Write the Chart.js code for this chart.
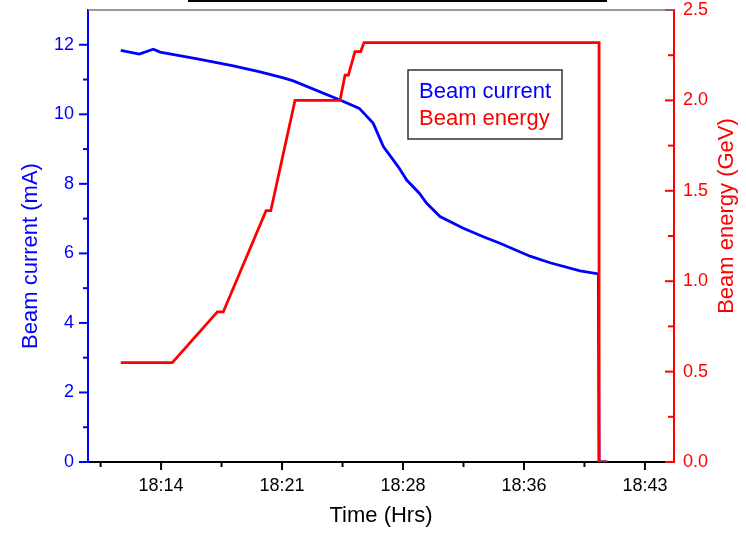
<!DOCTYPE html>
<html>
<head>
<meta charset="utf-8">
<title>Beam current and energy</title>
<script src="https://cdn.jsdelivr.net/npm/chart.js@4.4.0/dist/chart.umd.min.js"></script>
<style>
  html, body { margin: 0; padding: 0; background: #fff; }
  #wrap { width: 746px; height: 533px; }
</style>
</head>
<body>
<div id="wrap"><canvas id="beamChart" width="746" height="533"></canvas></div>
<script>
// times are minutes after 18:00
const currentTime = [12.0, 13.1, 13.94, 14.34, 16.72, 18.7, 20.29, 21.68, 22.27, 25.05, 26.2, 27.03, 27.63, 28.52, 29.02, 29.77, 30.21, 31.0, 32.39, 33.58, 34.57, 36.36, 37.55, 39.34, 40.43, 40.47, 40.95];
const beamCurrent = [11.84, 11.73, 11.87, 11.79, 11.58, 11.39, 11.22, 11.05, 10.96, 10.41, 10.17, 9.74, 9.07, 8.49, 8.11, 7.73, 7.44, 7.06, 6.72, 6.48, 6.29, 5.92, 5.73, 5.50, 5.41, 0, 0];

const energyTime = [12.0, 15.07, 17.75, 18.1, 20.65, 20.93, 22.37, 25.05, 25.35, 25.55, 25.94, 26.28, 26.48, 40.47, 40.47, 40.95];
const beamEnergy = [0.55, 0.55, 0.83, 0.83, 1.39, 1.39, 2.0, 2.0, 2.14, 2.14, 2.27, 2.27, 2.32, 2.32, 0, 0];

const timeTicks = [14.4, 21.6, 28.8, 36.0, 43.2];
const timeLabels = ['18:14', '18:21', '18:28', '18:36', '18:43'];
const currentTicks = [0, 2, 4, 6, 8, 10, 12];
const energyTicks = [0, 0.5, 1.0, 1.5, 2.0, 2.5];

const BLUE = '#0000ff';
const RED = '#ff0000';

Chart.defaults.font.family = '"Liberation Sans", Arial, sans-serif';
Chart.defaults.font.size = 18;

function toPoints(xs, ys) {
    return xs.map((x, i) => ({ x: x, y: ys[i] }));
}

function seg(ctx, x1, y1, x2, y2) {
    ctx.beginPath();
    ctx.moveTo(x1, y1);
    ctx.lineTo(x2, y2);
    ctx.stroke();
}

// fixed axis width, and no extra room for the end labels
function fixWidth(w) {
    return s => {
        s.width = w;
        s.paddingTop = 0;
        s.paddingBottom = 0;
    };
}

// tick marks: bottom + left point outwards, right axis points inwards
const tickMarks = {
    id: 'tickMarks',
    afterDraw(chart) {
        const { ctx, chartArea, scales } = chart;
        const x = scales.x, yc = scales.yCurrent, ye = scales.yEnergy;
        ctx.save();
        ctx.lineWidth = 2;

        ctx.strokeStyle = '#000';
        timeTicks.forEach(v => {
            let p = x.getPixelForValue(v);
            seg(ctx, p, chartArea.bottom, p, chartArea.bottom + 8);
            p = x.getPixelForValue(v - 3.6);
            seg(ctx, p, chartArea.bottom, p, chartArea.bottom + 5);
        });

        ctx.strokeStyle = BLUE;
        currentTicks.forEach(v => {
            let p = yc.getPixelForValue(v);
            seg(ctx, chartArea.left - 9, p, chartArea.left, p);
            if (v < 12) {
                p = yc.getPixelForValue(v + 1);
                seg(ctx, chartArea.left - 5, p, chartArea.left, p);
            }
        });

        ctx.strokeStyle = RED;
        energyTicks.forEach(v => {
            let p = ye.getPixelForValue(v);
            seg(ctx, chartArea.right - 9, p, chartArea.right, p);
            if (v < 2.5) {
                p = ye.getPixelForValue(v + 0.25);
                seg(ctx, chartArea.right - 6, p, chartArea.right, p);
            }
        });

        // top frame line, and the bottom edge of the title box above it
        ctx.strokeStyle = '#777';
        ctx.lineWidth = 1.5;
        seg(ctx, chartArea.left, chartArea.top, chartArea.right, chartArea.top);
        ctx.strokeStyle = '#000';
        ctx.lineWidth = 2;
        seg(ctx, 188, 1, 607, 1);

        // vertical axis titles, both read bottom to top
        ctx.font = '22px "Liberation Sans", Arial, sans-serif';
        ctx.textAlign = 'center';
        ctx.textBaseline = 'alphabetic';
        ctx.fillStyle = BLUE;
        ctx.translate(37, 256);
        ctx.rotate(-Math.PI / 2);
        ctx.fillText('Beam current (mA)', 0, 0);
        ctx.setTransform(1, 0, 0, 1, 0, 0);
        ctx.fillStyle = RED;
        ctx.translate(733, 216);
        ctx.rotate(-Math.PI / 2);
        ctx.fillText('Beam energy (GeV)', 0, 0);
        ctx.restore();
    }
};

// boxed legend with coloured text only
const boxLegend = {
    id: 'boxLegend',
    afterDraw(chart) {
        const ctx = chart.ctx;
        ctx.save();
        ctx.strokeStyle = '#333';
        ctx.lineWidth = 1.5;
        ctx.strokeRect(408, 70, 154, 69);
        ctx.font = '22px "Liberation Sans", Arial, sans-serif';
        ctx.textAlign = 'left';
        ctx.textBaseline = 'alphabetic';
        chart.data.datasets.forEach((ds, i) => {
            ctx.fillStyle = ds.borderColor;
            ctx.fillText(ds.label, 419, 98 + i * 27);
        });
        ctx.restore();
    }
};

const ctx = document.getElementById('beamChart').getContext('2d');
const beamChart = new Chart(ctx, {
    type: 'line',
    data: {
        datasets: [{
            label: 'Beam current',
            data: toPoints(currentTime, beamCurrent),
            yAxisID: 'yCurrent',
            borderColor: BLUE,
            borderWidth: 2.8,
            pointRadius: 0,
            tension: 0
        }, {
            label: 'Beam energy',
            data: toPoints(energyTime, beamEnergy),
            yAxisID: 'yEnergy',
            borderColor: RED,
            borderWidth: 2.8,
            pointRadius: 0,
            tension: 0,
            order: -1
        }]
    },
    options: {
        responsive: false,
        animation: false,
        layout: { padding: { top: 10, left: 0, right: 0, bottom: 0 } },
        plugins: {
            legend: { display: false },
            tooltip: { enabled: false }
        },
        scales: {
            x: {
                type: 'linear',
                min: 10.05,
                max: 44.93,
                afterBuildTicks: s => { s.ticks = timeTicks.map(v => ({ value: v })); },
                afterFit: s => { s.height = 71; },
                grid: { drawOnChartArea: false, drawTicks: false },
                border: { color: '#000', width: 2 },
                ticks: {
                    color: '#000',
                    padding: 14,
                    font: { size: 18, lineHeight: 1.1 },
                    callback: (v, i) => timeLabels[i]
                },
                title: {
                    display: true,
                    text: 'Time (Hrs)',
                    color: '#000',
                    font: { size: 22 },
                    padding: { top: 0, bottom: 4 }
                }
            },
            yCurrent: {
                type: 'linear',
                position: 'left',
                min: 0,
                max: 13,
                afterBuildTicks: s => { s.ticks = currentTicks.map(v => ({ value: v })); },
                afterFit: fixWidth(88),
                grid: { drawOnChartArea: false, drawTicks: false },
                border: { color: BLUE, width: 2 },
                ticks: {
                    color: BLUE,
                    padding: 14,
                    font: { size: 18, lineHeight: 1.1 }
                }
            },
            yEnergy: {
                type: 'linear',
                position: 'right',
                min: 0,
                max: 2.5,
                afterBuildTicks: s => { s.ticks = energyTicks.map(v => ({ value: v })); },
                afterFit: fixWidth(72),
                grid: { drawOnChartArea: false, drawTicks: false },
                border: { color: RED, width: 2 },
                ticks: {
                    color: RED,
                    padding: 9,
                    font: { size: 18, lineHeight: 1.1 },
                    callback: v => v.toFixed(1)
                }
            }
        }
    },
    plugins: [tickMarks, boxLegend]
});
</script>
</body>
</html>
